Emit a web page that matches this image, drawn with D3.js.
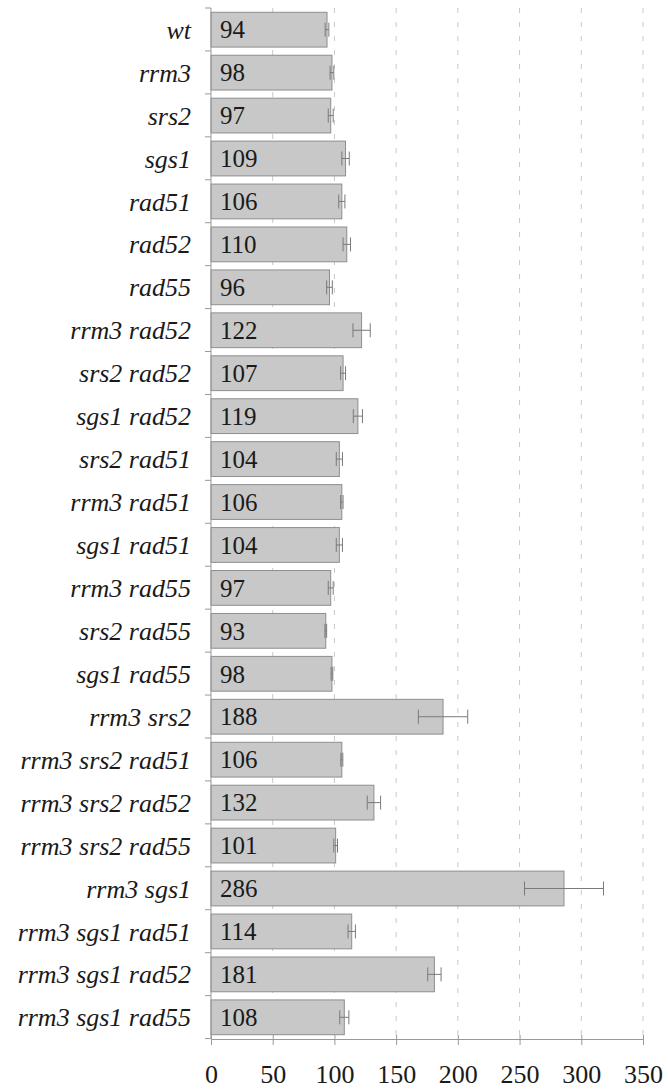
<!DOCTYPE html>
<html>
<head>
<meta charset="utf-8">
<script src="https://cdn.jsdelivr.net/npm/d3@7"></script>
<style>
  body { margin: 0; background: #fff; }
</style>
</head>
<body>
<div id="chart"></div>
<script>
// strains, in plot order (top to bottom)
var strains = ["wt", "rrm3", "srs2", "sgs1", "rad51", "rad52", "rad55",
               "rrm3 rad52", "srs2 rad52", "sgs1 rad52", "srs2 rad51",
               "rrm3 rad51", "sgs1 rad51", "rrm3 rad55", "srs2 rad55",
               "sgs1 rad55", "rrm3 srs2", "rrm3 srs2 rad51", "rrm3 srs2 rad52",
               "rrm3 srs2 rad55", "rrm3 sgs1", "rrm3 sgs1 rad51",
               "rrm3 sgs1 rad52", "rrm3 sgs1 rad55"];

var values = [94, 98, 97, 109, 106, 110, 96, 122, 107, 119, 104, 106, 104,
              97, 93, 98, 188, 106, 132, 101, 286, 114, 181, 108];

// half-width of the error bars
var errors = [1.5, 1.5, 2, 3, 2.5, 3, 2.3, 7, 2, 3.7, 2.5, 1, 2.5, 2,
              0.7, 0.7, 20, 0.8, 5.4, 1.5, 32, 3, 5.4, 3.7];

var xTicks = [0, 50, 100, 150, 200, 250, 300, 350];

var W = 668, H = 1089;
var margin = {top: 8, left: 211, right: 25, bot: 50};
var serif = "'Liberation Serif', 'Times New Roman', 'DejaVu Serif', serif";

var svg = d3.select("#chart").append("svg")
    .attr("width", W)
    .attr("height", H)
    .style("font-family", serif);

var x = d3.scaleLinear()
    .domain([0, 350])
    .range([margin.left, W - margin.right]);

var y = d3.scaleBand()
    .domain(strains)
    .range([margin.top, H - margin.bot])
    .paddingInner(0.19)
    .paddingOuter(0.1);

var yBottom = H - margin.bot;

// dashed grid
svg.append("g")
    .selectAll("line")
    .data(xTicks.filter(function(t) { return t > 0; }))
    .enter().append("line")
    .attr("x1", function(d) { return x(d); })
    .attr("x2", function(d) { return x(d); })
    .attr("y1", margin.top)
    .attr("y2", yBottom)
    .attr("stroke", "#c8c8c8")
    .attr("stroke-width", 1)
    .attr("stroke-dasharray", "5,9");

// bars
var rows = svg.append("g")
    .selectAll("g")
    .data(strains)
    .enter().append("g");

rows.append("rect")
    .attr("x", x(0))
    .attr("y", function(d) { return y(d); })
    .attr("width", function(d, i) { return x(values[i]) - x(0); })
    .attr("height", y.bandwidth())
    .attr("fill", "#c8c8c8")
    .attr("stroke", "#8e8e8e")
    .attr("stroke-width", 1);

// error bars
function errLine(sel, x1, x2, y1, y2) {
    sel.append("line")
        .attr("x1", x1).attr("x2", x2)
        .attr("y1", y1).attr("y2", y2)
        .attr("stroke", "#7a7a7a")
        .attr("stroke-width", 1);
}
rows.each(function(d, i) {
    var g = d3.select(this);
    var cy = y(d) + y.bandwidth() / 2;
    var lo = x(values[i] - errors[i]), hi = x(values[i] + errors[i]);
    errLine(g, lo, hi, cy, cy);
    errLine(g, lo, lo, cy - 7, cy + 7);
    errLine(g, hi, hi, cy - 7, cy + 7);
});

// value labels inside bars
rows.append("text")
    .attr("x", x(0) + 9)
    .attr("y", function(d) { return y(d) + y.bandwidth() / 2; })
    .attr("dy", "0.35em")
    .style("font-family", serif)
    .style("font-size", "25px")
    .attr("fill", "#1a1a1a")
    .text(function(d, i) { return values[i]; });

// y axis: strain names
var yAxis = svg.append("g")
    .attr("transform", "translate(" + x(0) + ",0)");

yAxis.append("line")
    .attr("x1", 0).attr("x2", 0)
    .attr("y1", margin.top).attr("y2", yBottom)
    .attr("stroke", "#999");

var step = y.step();
yAxis.selectAll("line.tk")
    .data(d3.range(strains.length + 1))
    .enter().append("line")
    .attr("class", "tk")
    .attr("x1", -6).attr("x2", 0)
    .attr("y1", function(i) { return margin.top + i * step; })
    .attr("y2", function(i) { return margin.top + i * step; })
    .attr("stroke", "#999");

yAxis.selectAll("text")
    .data(strains)
    .enter().append("text")
    .attr("x", -20)
    .attr("y", function(d) { return y(d) + y.bandwidth() / 2; })
    .attr("dy", "0.35em")
    .attr("text-anchor", "end")
    .style("font-family", serif)
    .style("font-size", "26px")
    .style("font-style", "italic")
    .attr("fill", "#1a1a1a")
    .text(function(d) { return d; });

// x axis
var xAxis = svg.append("g")
    .attr("transform", "translate(0," + yBottom + ")")
    .call(d3.axisBottom(x).tickValues(xTicks).tickSize(6).tickPadding(20));

xAxis.attr("font-family", null);
xAxis.select(".domain").attr("stroke", "#999");
xAxis.selectAll(".tick line")
    .attr("stroke", "#999")
    .attr("y1", -4);
xAxis.selectAll(".tick text")
    .style("font-family", serif)
    .style("font-size", "26px")
    .attr("fill", "#1a1a1a");
</script>
</body>
</html>
